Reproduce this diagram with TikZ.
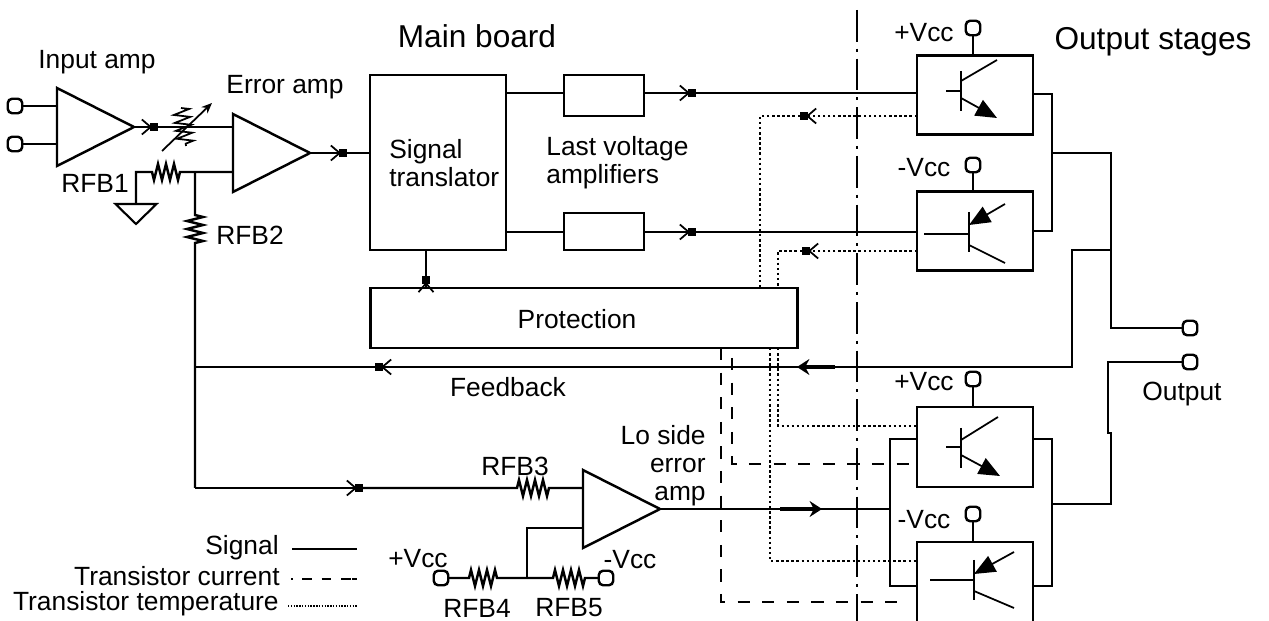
\documentclass[tikz,border=0pt]{standalone}
\usepackage{fontspec}
\setmainfont{Liberation Sans}
\usetikzlibrary{shapes, arrows.meta, positioning, decorations.pathmorphing}
\tikzset{
  wire/.style={line width=1.4pt},
  thin wire/.style={line width=1pt},
  tempwire/.style={line width=1.4pt, dash pattern=on 1.4pt off 1.5pt},
  currwire/.style={line width=1.4pt, dash pattern=on 7pt off 7pt},
  sigtip/.style={-{Straight Barb[length=5pt, width=8.5pt, line width=1pt, sep=-1pt]Square[length=4.4pt, width=4.4pt]}},
  thicktip/.style={line width=2.6pt, -{Stealth[length=7pt, width=9pt]}},
  emitip/.style={-{Stealth[length=12pt, width=10pt, inset=0pt]}},
  resistor/.style={decoration={zigzag, segment length=0.16cm, amplitude=0.16cm}},
  boxnode/.style={draw, line width=1.4pt, inner sep=0pt, outer sep=0pt},
  ampnode/.style={draw, line width=1.4pt, isosceles triangle, isosceles triangle stretches, minimum width=1.56cm, minimum height=1.54cm, inner sep=0pt, outer sep=0pt, anchor=lower side},
  gndnode/.style={draw, line width=1.2pt, isosceles triangle, isosceles triangle stretches, shape border rotate=-90, minimum width=0.82cm, minimum height=0.4cm, inner sep=0pt, outer sep=0pt, anchor=lower side},
  termnode/.style={draw, line width=1.4pt, rounded corners=2.5pt, minimum size=0.29cm, inner sep=0pt, outer sep=0pt},
  lab/.style={font=\fontsize{15}{16}\selectfont, inner sep=0pt},
  biglab/.style={font=\fontsize{18}{20}\selectfont, inner sep=0pt},
}

\begin{document}
\begin{tikzpicture}[x=0.02cm, y=-0.02cm]
  \useasboundingbox (0,0) rectangle (1269,621);

  % Board divider
  \coordinate (divtop) at (857,10);
  \coordinate (divbot) at (857,621);
  \draw[line width=1.2pt, dash pattern=on 18pt off 4pt on 1.7pt off 4pt] (divtop) -- (divbot);

  % Input amp
  \node[termnode] (in1) at (15,106) {};
  \node[termnode] (in2) at (15,144) {};
  \node[ampnode] (inamp) at (57,127) {};
  \coordinate (ia1) at (57,106);
  \coordinate (ia2) at (57,144);
  \draw[wire] (in1) -- (ia1);
  \draw[wire] (in2) -- (ia2);
  \node[lab] (inlab) at (97,62) {Input amp};

  % Error amp
  \node[ampnode] (erramp) at (233,153) {};
  \coordinate (ea1) at (233,127);
  \coordinate (ea2) at (233,172);
  \coordinate (atip1) at (158,127);
  \draw[wire, sigtip] (inamp.apex) -- (atip1);
  \draw[wire] (atip1) -- (ea1);
  \node[lab] (errlab) at (285,87) {Error amp};

  % Variable gain in the input path
  \coordinate (vr1) at (181,108);
  \coordinate (vr2) at (186,146);
  \coordinate (vr3) at (162,151);
  \coordinate (vr4) at (212,103);
  \draw[thin wire, resistor, decorate] (vr1) -- (vr2);
  \draw[thin wire, -{Stealth[length=6pt, width=5pt]}] (vr3) -- (vr4);

  % Feedback resistors
  \coordinate (fbj) at (195,172);
  \coordinate (fb1a) at (180,172);
  \coordinate (fb1b) at (150,172);
  \coordinate (fb1c) at (136,172);
  \node[gndnode] (gnd) at (136,204) {};
  \draw[wire] (ea2) -- (fb1a) decorate[resistor]{ -- (fb1b)} -- (fb1c) -- (gnd.lower side);
  \node[lab] (rfb1) at (95,183) {RFB1};
  \coordinate (fb2a) at (195,215);
  \coordinate (fb2b) at (195,245);
  \coordinate (fbc) at (195,488);
  \draw[wire] (fbj) -- (fb2a) decorate[resistor]{ -- (fb2b)} -- (fbc);
  \node[lab] (rfb2) at (250,235) {RFB2};

  % Signal translator
  \node[boxnode, minimum width=2.72cm, minimum height=3.5cm] (trans) at (438,162.5) {};
  \node[lab, anchor=west, align=left] (translab) at (389,163) {Signal\\translator};
  \coordinate (tin) at (370,153);
  \coordinate (atip2) at (347,153);
  \draw[wire, sigtip] (erramp.apex) -- (atip2);
  \draw[wire] (atip2) -- (tin);
  \node[biglab] (mainlab) at (477,36) {Main board};

  % Last voltage amplifiers
  \node[boxnode, minimum width=1.6cm, minimum height=0.82cm] (volthi) at (604,95.5) {};
  \node[boxnode, minimum width=1.6cm, minimum height=0.74cm] (voltlo) at (604,231.5) {};
  \node[lab, anchor=west, align=left] (voltlab) at (546,163) {Last voltage\\amplifiers};

  % Output stages
  \node[boxnode, minimum width=2.32cm, minimum height=1.58cm] (outhi) at (975,95) {};
  \node[boxnode, minimum width=2.32cm, minimum height=1.58cm] (outlo) at (975,231) {};
  \node[boxnode, minimum width=2.32cm, minimum height=1.6cm] (lohi) at (975,447) {};
  \node[boxnode, minimum width=2.32cm, minimum height=1.66cm] (lolo) at (975,583.5) {};
  \node[biglab] (outlab) at (1153,42) {Output stages};

  % Supply terminals
  \node[termnode] (vcc1) at (973,28) {};
  \node[termnode] (vcc2) at (973,165) {};
  \node[termnode] (vcc3) at (973,379) {};
  \node[termnode] (vcc4) at (973,514) {};
  \draw[wire] (vcc1.south) -- (vcc1.south |- outhi.north);
  \draw[wire] (vcc2.south) -- (vcc2.south |- outlo.north);
  \draw[wire] (vcc3.south) -- (vcc3.south |- lohi.north);
  \draw[wire] (vcc4.south) -- (vcc4.south |- lolo.north);
  \node[lab] (vcc1lab) at (924,33) {+Vcc};
  \node[lab] (vcc2lab) at (924,168) {-Vcc};
  \node[lab] (vcc3lab) at (924,382) {+Vcc};
  \node[lab] (vcc4lab) at (924,520) {-Vcc};

  % Drive signals
  \coordinate (tr1) at (506,93);
  \coordinate (tr2) at (506,232);
  \coordinate (vh1) at (564,93);
  \coordinate (vh2) at (644,93);
  \coordinate (vl1) at (564,232);
  \coordinate (vl2) at (644,232);
  \coordinate (atip3) at (696,93);
  \coordinate (atip4) at (696,232);
  \coordinate (oh1) at (917,93);
  \coordinate (ol1) at (917,232);
  \draw[wire] (tr1) -- (vh1);
  \draw[wire] (tr2) -- (vl1);
  \draw[wire, sigtip] (vh2) -- (atip3);
  \draw[wire, sigtip] (vl2) -- (atip4);
  \draw[wire] (atip3) -- (oh1);
  \draw[wire] (atip4) -- (ol1);

  % Protection
  \node[boxnode, minimum width=8.54cm, minimum height=1.2cm] (prot) at (584,318) {};
  \node[lab] (protlab) at (577,319) {Protection};
  \coordinate (pr1) at (426,288);
  \coordinate (pr2) at (426,276);
  \coordinate (pr3) at (426,250);
  \draw[wire, sigtip] (pr1) -- (pr2);
  \draw[wire] (pr2) -- (pr3);

  % Output summing
  \coordinate (oh2) at (1033,94);
  \coordinate (ol2) at (1033,231);
  \coordinate (hisum) at (1052,153);
  \coordinate (jog0) at (1111,328);
  \node[termnode] (out1) at (1190,328) {};
  \node[termnode] (out2) at (1190,362) {};
  \draw[wire] (oh2) -| (hisum) |- (ol2);
  \draw[wire] (hisum) -| (jog0) -- (out1);
  \node[lab] (outplab) at (1182,394) {Output};
  \coordinate (lh2) at (1033,439);
  \coordinate (ll2) at (1033,586);
  \coordinate (losum) at (1052,504);
  \coordinate (jog1) at (1111,433);
  \coordinate (jog2) at (1108,433);
  \draw[wire] (lh2) -| (losum) |- (ll2);
  \draw[wire] (losum) -| (jog1) -- (jog2) |- (out2);

  % Feedback
  \coordinate (fbs1) at (1111,250);
  \coordinate (fbs2) at (1072,250);
  \coordinate (fbs3) at (1072,367);
  \coordinate (fbs4) at (375,367);
  \coordinate (fbs5) at (195,367);
  \coordinate (fbk1) at (835,367);
  \coordinate (fbk2) at (797,367);
  \draw[wire] (fbs1) -- (fbs2) -- (fbs3) -- (fbs5);
  \draw[wire, sigtip] (fbs3) -- (fbs4);
  \draw[thicktip] (fbk1) -- (fbk2);
  \node[lab] (fblab) at (508,387) {Feedback};

  % Lo side error amp
  \node[ampnode] (loamp) at (583,509) {};
  \coordinate (la1) at (583,488);
  \coordinate (la2) at (583,528);
  \coordinate (atip5) at (363,488);
  \coordinate (rf3a) at (517,488);
  \coordinate (rf3b) at (550,488);
  \draw[wire, sigtip] (fbc) -- (atip5);
  \draw[wire] (atip5) -- (rf3a) decorate[resistor]{ -- (rf3b)} -- (la1);
  \node[lab] (rfb3) at (515,466) {RFB3};
  \node[lab, align=right, anchor=east] (lolab) at (706,466) {Lo side\\error\\amp};
  \coordinate (losig) at (890,509);
  \coordinate (lok1) at (780,509);
  \coordinate (lok2) at (822,509);
  \draw[wire] (loamp.apex) -- (losig);
  \draw[thicktip] (lok1) -- (lok2);
  \coordinate (lh1) at (917,439);
  \coordinate (ll1) at (917,586);
  \draw[wire] (lh1) -| (losig) |- (ll1);

  % Bias network
  \node[termnode] (bias1) at (441,578) {};
  \node[termnode] (bias2) at (606,578) {};
  \coordinate (bj) at (527,578);
  \coordinate (rf4a) at (469,578);
  \coordinate (rf4b) at (500,578);
  \coordinate (rf5a) at (553,578);
  \coordinate (rf5b) at (585,578);
  \draw[wire] (bias1) -- (rf4a) decorate[resistor]{ -- (rf4b)} -- (bj);
  \draw[wire] (bj) -- (rf5a) decorate[resistor]{ -- (rf5b)} -- (bias2);
  \draw[wire] (bj) |- (la2);
  \node[lab] (bias1lab) at (418,559) {+Vcc};
  \node[lab] (bias2lab) at (630,560) {-Vcc};
  \node[lab] (rfb4) at (477,608) {RFB4};
  \node[lab] (rfb5) at (569,608) {RFB5};

  % Temperature sense
  \coordinate (th1) at (917,116);
  \coordinate (th2) at (800,116);
  \coordinate (th3) at (760,288);
  \coordinate (tl1) at (917,251);
  \coordinate (tl2) at (802,251);
  \coordinate (tl3) at (778,288);
  \coordinate (tb1) at (778,348);
  \coordinate (tb2) at (917,426);
  \coordinate (tb3) at (770,348);
  \coordinate (tb4) at (917,561);
  \draw[tempwire, sigtip] (th1) -- (th2);
  \draw[tempwire, sigtip] (tl1) -- (tl2);
  \draw[tempwire] (th2) -| (th3);
  \draw[tempwire] (tl2) -| (tl3);
  \draw[tempwire] (tb1) |- (tb2);
  \draw[tempwire] (tb3) |- (tb4);

  % Current sense
  \coordinate (ci1) at (721,348);
  \coordinate (ci2) at (908,602);
  \coordinate (ci3) at (732,358);
  \coordinate (ci4) at (915,464);
  \draw[currwire] (ci1) |- (ci2);
  \draw[currwire] (ci3) |- (ci4);

  % Transistors
  \draw[thin wire] (946,91) -- (961,91);
  \draw[wire] (961,71) -- (961,111);
  \draw[thin wire] (961,81) -- (997,60);
  \draw[thin wire, emitip] (961,98) -- (997,118);
  \draw[thin wire] (924,234) -- (969,234);
  \draw[wire] (969,212) -- (969,252);
  \draw[thin wire] (969,245) -- (1005,263);
  \draw[thin wire, emitip] (1005,204) -- (969,225);
  \draw[thin wire] (946,447) -- (961,447);
  \draw[wire] (961,428) -- (961,468);
  \draw[thin wire] (961,440) -- (998,417);
  \draw[thin wire, emitip] (961,455) -- (1000,476);
  \draw[thin wire] (930,580) -- (974,580);
  \draw[wire] (974,560) -- (974,600);
  \draw[thin wire] (974,591) -- (1014,608);
  \draw[thin wire, emitip] (1014,552) -- (974,574);

  % Legend
  \node[lab, anchor=east] (lg1) at (279,548) {Signal};
  \node[lab, anchor=east] (lg2) at (280,576) {Transistor current};
  \node[lab, anchor=east] (lg3) at (279,604) {Transistor temperature};
  \coordinate (lg1a) at (292,549);
  \coordinate (lg1b) at (357,549);
  \coordinate (lg2a) at (291,579);
  \coordinate (lg2b) at (357,579);
  \coordinate (lg3a) at (288,606);
  \coordinate (lg3b) at (357,606);
  \draw[wire] (lg1a) -- (lg1b);
  \draw[line width=1.2pt, dash pattern=on 1pt off 5.5pt on 5.5pt off 5.5pt on 5.5pt off 5.5pt on 5.5pt] (lg2a) -- (lg2b);
  \draw[line width=1.2pt, dash pattern=on 0.8pt off 0.8pt] (lg3a) -- (lg3b);
\end{tikzpicture}
\end{document}
